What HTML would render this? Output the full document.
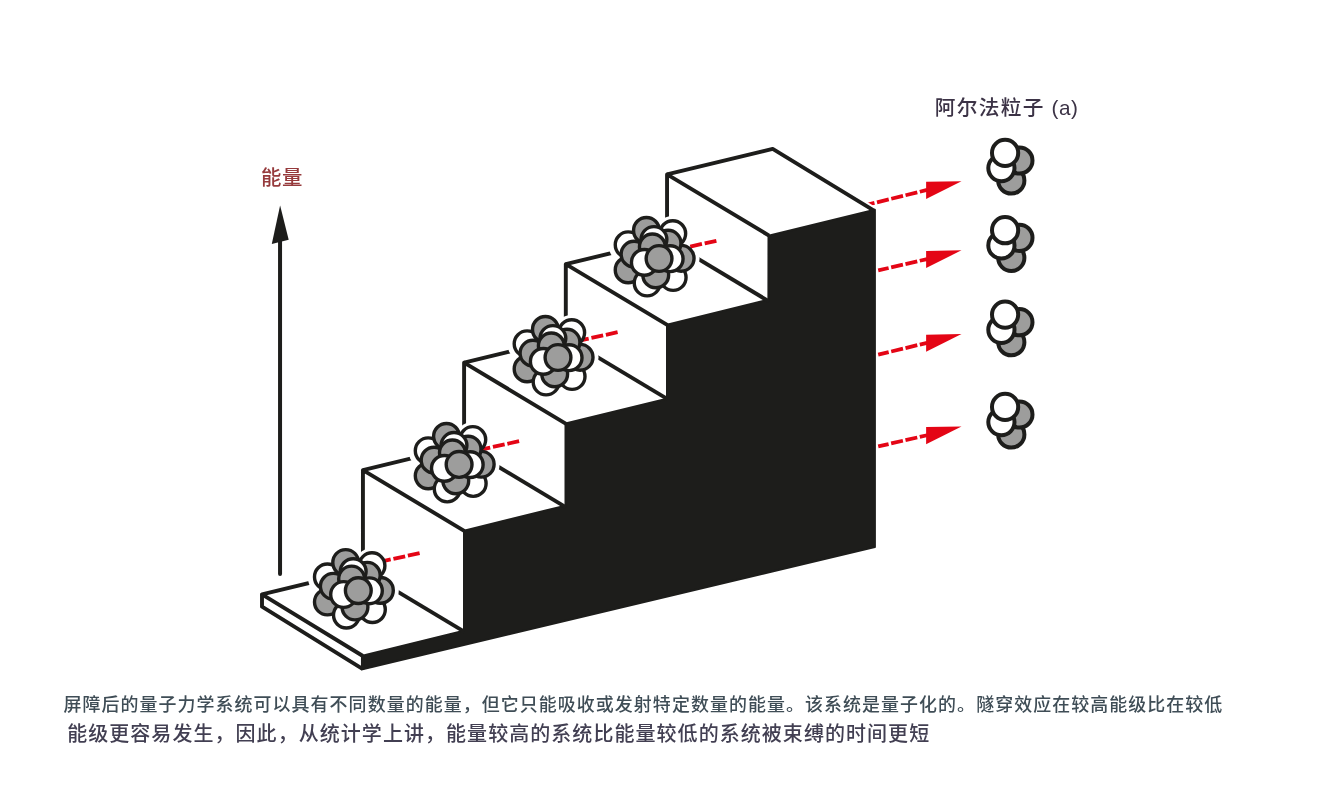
<!DOCTYPE html>
<html lang="zh-CN">
<head>
<meta charset="utf-8">
<title>量子隧穿与能级</title>
<style>
html,body{margin:0;padding:0;background:#fff;}
body{width:1323px;height:802px;overflow:hidden;position:relative;font-family:"Liberation Sans","Noto Sans CJK SC",sans-serif;}
#stage{position:absolute;left:0;top:0;width:1323px;height:802px;overflow:hidden;will-change:transform;}
svg{position:absolute;left:0;top:0;display:block;}
.t{position:absolute;white-space:nowrap;margin:0;line-height:1;font-weight:500;}
#energy{left:261.1px;top:168.3px;font-size:20.4px;letter-spacing:0.4px;color:#963a3c;}
#alpha{left:934.7px;top:98.3px;font-size:20.7px;letter-spacing:1.35px;color:#3c3346;}
#alpha span{letter-spacing:0.6px;margin-left:0.2px;}
#cap1{left:63.4px;top:697px;font-size:17.95px;letter-spacing:1.078px;color:#3f4d56;}
#cap2{left:67.15px;top:723.6px;font-size:20px;letter-spacing:1.05px;color:#423f52;}
</style>
</head>
<body>
<div id="stage">
<svg width="1323" height="802" viewBox="0 0 1323 802">
<defs><g id="nuc"><circle cx="-26.5" cy="13.0" r="12.9" fill="#9d9d9c"/><circle cx="-7.5" cy="26.1" r="12.9" fill="#fff"/><circle cx="18.5" cy="20.6" r="12.9" fill="#fff"/><circle cx="26.5" cy="1.4" r="12.9" fill="#9d9d9c"/><circle cx="-26.5" cy="-12.1" r="12.9" fill="#fff"/><circle cx="-8.2" cy="-26.5" r="12.9" fill="#9d9d9c"/><circle cx="18.1" cy="-23.3" r="12.9" fill="#fff"/><circle cx="13.4" cy="-13.7" r="12.9" fill="#9d9d9c"/><circle cx="-0.7" cy="-17.4" r="12.9" fill="#fff"/><circle cx="-20.6" cy="-2.7" r="12.9" fill="#9d9d9c"/><circle cx="-2.3" cy="-10.0" r="12.9" fill="#9d9d9c"/><circle cx="1.1" cy="18.0" r="12.9" fill="#9d9d9c"/><circle cx="15.5" cy="1.8" r="12.9" fill="#fff"/><circle cx="-10.3" cy="5.5" r="12.9" fill="#fff"/><circle cx="4.4" cy="1.6" r="12.9" fill="#9d9d9c"/></g><g id="halo"><circle cx="-26.5" cy="13.0" r="19.6"/><circle cx="-7.5" cy="26.1" r="19"/><circle cx="18.5" cy="20.6" r="19"/><circle cx="26.5" cy="1.4" r="18.4"/><circle cx="-26.5" cy="-12.1" r="19.6"/><circle cx="-8.2" cy="-26.5" r="17.6"/><circle cx="18.1" cy="-23.3" r="17.6"/></g><g id="alp"><circle cx="6.2" cy="12.5" r="13.1" fill="#9d9d9c"/><circle cx="14.3" cy="-7.5" r="13.1" fill="#9d9d9c"/><circle cx="-3.7" cy="0.1" r="13.1" fill="#fff"/><circle cx="0" cy="-15.1" r="13.1" fill="#fff"/></g></defs>
<line x1="280.05" y1="238" x2="280.05" y2="574.1" stroke="#1d1d1b" stroke-width="4" stroke-linecap="round"/>
<polygon points="280.1,205.6 271.8,244 288.7,239.8" fill="#1d1d1b"/>
<line x1="927.1" y1="189.96" x2="866" y2="205" stroke="#e40515" stroke-width="3.8" stroke-dasharray="12.1 2.6" stroke-dashoffset="4.6" fill="none"/><polygon points="926.1,181.8 926.1,198.9 961.5,181.2" fill="#e40515"/>
<polygon fill="#fff" stroke="none" points="262.00,594.30 362.93,569.98 362.93,470.10 464.10,445.72 464.10,362.60 565.80,338.09 565.80,264.10 667.05,239.70 667.05,174.40 772.70,148.90 874.00,210.60 874.90,547.00 362.40,669.30 262.00,606.70"/>
<polyline points="772.70,148.90 874.00,210.60" fill="none" stroke="#fff" stroke-width="7.6" stroke-linecap="butt"/>
<polygon fill="#1d1d1b" stroke="#1d1d1b" stroke-width="2" stroke-linejoin="round" points="362.40,655.60 464.00,630.60 464.00,530.60 565.50,505.60 565.50,423.40 667.00,398.60 667.00,324.60 768.40,299.70 768.50,235.80 874.90,209.80 874.90,547.00 362.40,669.30"/>
<g fill="none" stroke="#1d1d1b" stroke-width="3.9" stroke-linecap="butt" stroke-linejoin="round">
<polyline points="362.93,569.98 262.00,594.30 362.90,656.00"/>
<polyline points="262.00,594.30 262.00,606.70 362.90,669.20"/>
<line x1="362.90" y1="655.00" x2="362.90" y2="669.20" />
<polyline points="362.93,569.98 362.93,470.10 464.60,531.10"/>
<line x1="362.93" y1="570.88" x2="464.60" y2="631.88" />
<line x1="362.93" y1="470.10" x2="464.10" y2="445.72" />
<polyline points="464.10,445.72 464.10,362.60 566.10,423.80"/>
<line x1="464.10" y1="446.22" x2="566.10" y2="507.42" />
<line x1="464.10" y1="362.60" x2="565.80" y2="338.09" />
<polyline points="565.80,338.09 565.80,264.10 667.60,325.18"/>
<line x1="565.80" y1="338.09" x2="667.60" y2="399.17" />
<line x1="565.80" y1="264.10" x2="667.05" y2="239.70" />
<polyline points="667.05,239.70 667.05,174.40 769.10,235.63"/>
<line x1="667.05" y1="240.20" x2="769.00" y2="301.37" />
<polyline points="667.05,174.40 772.70,148.90 874.00,210.60"/>
</g>
<line x1="927.1" y1="259.06" x2="878.2" y2="270.4" stroke="#e40515" stroke-width="3.8" stroke-dasharray="12.1 2.6" stroke-dashoffset="4.6" fill="none"/><polygon points="926.1,250.9 926.1,268 961.5,250.3" fill="#e40515"/>
<line x1="927.1" y1="342.86" x2="878.2" y2="354.6" stroke="#e40515" stroke-width="3.8" stroke-dasharray="12.1 2.6" stroke-dashoffset="4.6" fill="none"/><polygon points="926.1,334.7 926.1,351.8 961.5,334.1" fill="#e40515"/>
<line x1="927.1" y1="435.26" x2="878.2" y2="446.4" stroke="#e40515" stroke-width="3.8" stroke-dasharray="12.1 2.6" stroke-dashoffset="4.6" fill="none"/><polygon points="926.1,427.1 926.1,444.2 961.5,426.5" fill="#e40515"/>
<g fill="#fff" stroke="none">
<use href="#halo" x="353.9" y="589"/>
<use href="#halo" x="454.7" y="462.85"/>
<use href="#halo" x="553.6" y="355.9"/>
<use href="#halo" x="654.65" y="256.9"/>
</g>
<g stroke="#e40515" stroke-width="3.8" fill="none" stroke-dasharray="12 2.8">
<line x1="419.60" y1="553.10" x2="378.60" y2="562.10" />
<line x1="519.10" y1="441.20" x2="478.10" y2="450.20" />
<line x1="617.60" y1="332.20" x2="576.60" y2="341.20" />
<line x1="716.40" y1="240.80" x2="675.40" y2="249.80" />
</g>
<g stroke="#1d1d1b" stroke-width="3.4">
<use href="#nuc" x="353.9" y="589"/>
<use href="#nuc" x="454.7" y="462.85"/>
<use href="#nuc" x="553.6" y="355.9"/>
<use href="#nuc" x="654.65" y="256.9"/>
</g>
<g stroke="#1d1d1b" stroke-width="4">
<use href="#alp" x="1005.1" y="168"/>
<use href="#alp" x="1005.1" y="245.3"/>
<use href="#alp" x="1005.1" y="329.7"/>
<use href="#alp" x="1005.1" y="422"/>
</g>
</svg>
<p class="t" id="energy">能量</p>
<p class="t" id="alpha">阿尔法粒子<span> (a)</span></p>
<p class="t" id="cap1">屏障后的量子力学系统可以具有不同数量的能量，但它只能吸收或发射特定数量的能量。该系统是量子化的。隧穿效应在较高能级比在较低</p>
<p class="t" id="cap2">能级更容易发生，因此，从统计学上讲，能量较高的系统比能量较低的系统被束缚的时间更短</p>
</div>
</body>
</html>
